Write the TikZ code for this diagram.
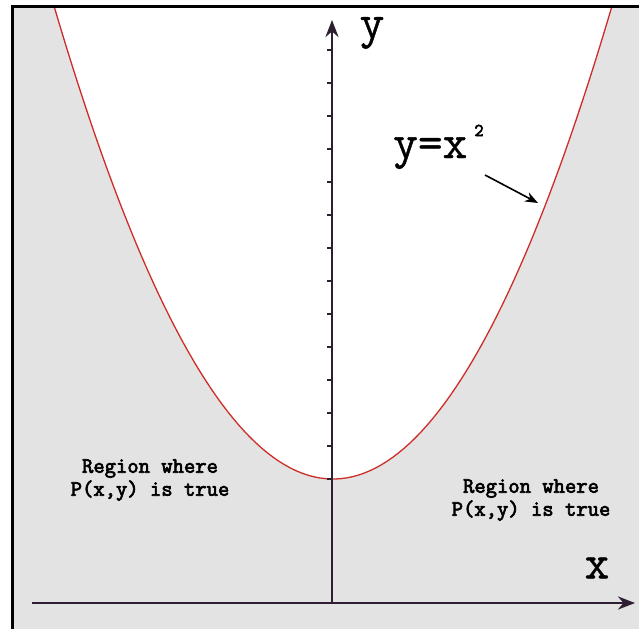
\documentclass[tikz,border=0pt]{standalone}
\usepackage{fontspec}
\newfontfamily\regionfont{Latin Modern Mono}[FakeBold=3.2]
\newfontfamily\labelfont{Latin Modern Mono}[FakeBold=0.8]
\usepackage{tikz}
\usetikzlibrary{arrows.meta,positioning}
\definecolor{bggray}{RGB}{227,227,227}
\definecolor{axiscol}{RGB}{45,30,50}
\definecolor{curvecol}{RGB}{205,45,40}

\begin{document}
\begin{tikzpicture}[x=1pt,y=-1pt,
  every node/.style={font=\labelfont,inner sep=0pt},
  axis/.style={line width=2.8pt,draw=axiscol,-{Stealth[length=17pt,width=13pt]}},
  tick/.style={line width=1.6pt,draw=axiscol},
  biglbl/.style={font=\labelfont\fontsize{48}{48}\selectfont},
  regionlbl/.style={font=\regionfont\fontsize{22}{23}\selectfont,align=center}]
  \useasboundingbox (0,0) rectangle (639,629);
  % shaded area and the white inside of the parabola
  \fill[bggray] (12,6) rectangle (639,629);
  \begin{scope}
    \clip (12,6) rectangle (639,629);
    \fill[white] plot[domain=50:616,samples=100] (\x,{479-473*((\x-333)/279)^2}) -- cycle;
    \draw[curvecol,line width=1.3pt] plot[domain=50:616,samples=100] (\x,{479-473*((\x-333)/279)^2});
  \end{scope}
  \draw[line width=3pt] (12,629) -- (12,6) -- (639,6);

  % axes
  \coordinate (xstart) at (32,603);
  \coordinate (xend)   at (635,603);
  \coordinate (ystart) at (332,603);
  \coordinate (yend)   at (332,20);
  \draw[axis] (xstart) -- (xend);
  \draw[axis] (ystart) -- (yend);
  \foreach \k in {0,...,13}
    \draw[tick] (327,479-33*\k) -- (332,479-33*\k);

  \node[biglbl] (ylabel) at (372,33) {y};
  \node[biglbl] (xlabel) at (597,568) {x};

  % label of the curve
  \node[biglbl,anchor=base west] (curvelbl) at (393,158) {y=x\kern7pt\raisebox{22pt}{\regionfont\fontsize{18}{18}\selectfont 2}};
  \coordinate (tail) at (485,175);
  \coordinate (curvept) at (538,203);
  \draw[line width=1.6pt,-{Stealth[length=13pt,width=10pt]}] (tail) -- (curvept);

  \node[regionlbl] (leftregion)  at (150,480) {Region where\\P(x,y) is true};
  \node[regionlbl] (rightregion) at (531,500) {Region where\\P(x,y) is true};
\end{tikzpicture}
\end{document}
